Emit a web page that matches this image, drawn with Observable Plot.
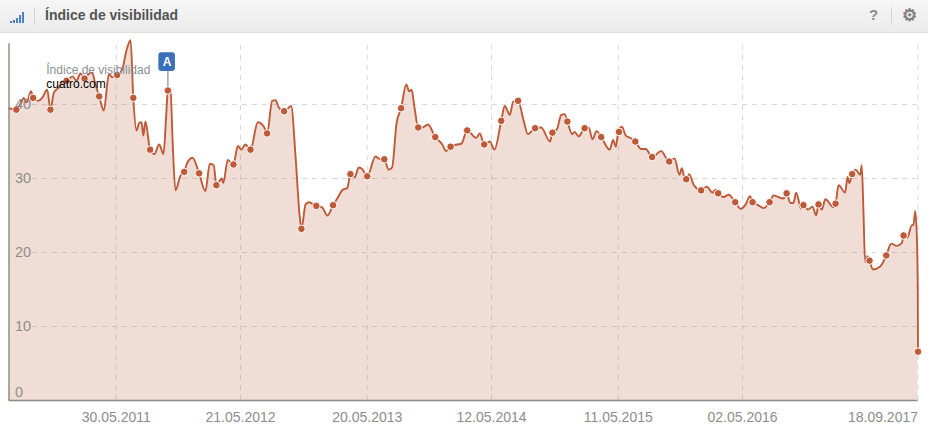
<!DOCTYPE html>
<html lang="es">
<head>
<meta charset="utf-8">
<script src="https://cdn.jsdelivr.net/npm/d3@7"></script>
<script src="https://cdn.jsdelivr.net/npm/@observablehq/plot@0.6"></script>
<style>
html,body{margin:0;padding:0;background:#fff;width:928px;height:430px;overflow:hidden;font-family:"Liberation Sans",Arial,sans-serif}
#head{position:relative;height:32px;box-sizing:content-box;background:linear-gradient(#f6f6f6,#ebebeb);border-bottom:1px solid #dcdcdc;color:#555}
#bars{position:absolute;left:10px;top:12px;height:11px;display:flex;align-items:flex-end;gap:1px}
#bars i{display:block;width:2px;background:#4a7fc9}
.sep{position:absolute;top:7px;height:18px;width:1px;background:#d5d5d5}
#title{position:absolute;left:45px;top:7px;font:bold 14px/17px "Liberation Sans",Arial,sans-serif;color:#555}
#help{position:absolute;left:869px;top:6px;font:bold 15px/18px "Liberation Sans",Arial,sans-serif;color:#8b8b8b}
#gear{position:absolute;left:902px;top:4px;font:17px/22px "DejaVu Sans",sans-serif;color:#808080;-webkit-text-stroke:.6px #808080}
#chart svg{display:block}
</style>
</head>
<body>
<div id="head">
  <div id="bars"><i style="height:2px"></i><i style="height:3px"></i><i style="height:5px"></i><i style="height:8px"></i><i style="height:11px"></i></div>
  <div class="sep" style="left:34px"></div>
  <div id="title">Índice de visibilidad</div>
  <div id="help">?</div>
  <div class="sep" style="left:891px"></div>
  <div id="gear">⚙</div>
</div>
<div id="chart"></div>
<script>
const startDate = "2010-07-26";
const endDate = "2017-09-18";
const tickDates = ["2011-05-30","2012-05-21","2013-05-20","2014-05-12","2015-05-11","2016-05-02"];
const lastTick = "2017-09-18";
const yTicks = [0,10,20,30,40];
const seriesName = "Índice de visibilidad";
const domainName = "cuatro.com";

// weeks since startDate
const lineWeeks = [0,3,4.7,6.1,7.2,9.1,9.9,12,13.6,15.7,17,18.4,20.4,22.2,23.6,26.1,27.7,29.3,31,32.6,34.1,35.5,37,38.9,41,42.3,44.4,46.5,48.2,49.9,51,52.3,53.4,54.4,55.1,56,57.9,59.7,61.6,63.4,64.5,65.2,66.3,67.2,68.3,70.4,71.9,73.1,75.3,78,80.6,82.4,84,85.1,87.3,87.9,89.8,92.1,93.9,95.3,97,99.1,102.1,104.6,105.9,108,109.4,110.7,112.9,115.8,117.6,119.2,120,121.7,123,126.1,128.5,130.6,133,134.7,137,138.8,140.1,141.9,143.5,144.9,147,150.4,151.7,154,155.8,157.2,159,160.9,163,164.2,165.2,166.4,167.9,169.6,171.9,174.9,177.8,179.4,181.2,183.9,185.6,188,191.7,193.2,195,197.3,199.2,202,203.4,205.5,206.9,208.9,211.2,212.9,215.9,218.4,222,223,224.9,226.6,228,229.1,231.1,232.1,233.8,236.2,237.9,239.4,241.1,243,246.5,247.9,249,250,251.5,253.1,254.9,257,259.4,261.3,263.9,267.6,270.9,273.1,275.1,276.1,276.9,277.9,279.1,280.9,284,286.3,288.7,290,291,293.2,295.3,298,300.3,302.1,304.1,305.1,307.3,309.7,312.1,313.7,317.8,319.1,320.6,321.9,323,325.1,326,327.8,329.7,331.2,332.2,333.5,335,338.3,339.2,340.4,343.1,344.1,344.8,346,347.4,349.3,349.9,350.6,351.3,352.2,353.1,354.5,357.5,360,362,364.3,366.4,367.1,368.6,370.5,371.1,371.9,372.6,372.9,373];
const lineValues = [39.5,39.3,40.1,40.9,40.3,41.8,40.9,40.5,40.9,42,39.3,41.6,42.3,43.2,43.2,43.8,43.2,44.2,43.5,44.1,44.3,42.7,41.1,39.2,44.1,43.7,44,44.8,47.3,48.7,40.9,36.5,37.5,37.6,35.8,37.7,33.9,33.3,34.6,33.3,38.5,41.9,41.7,34.5,28.4,30.4,30.9,32.1,32.8,30.7,28.3,32,31.8,29.1,30,29.4,32.5,31.9,34.4,33.9,34.6,33.9,37.6,37,36.1,40.5,40.6,39.6,39.1,39.8,32.9,25.2,23.2,26.5,26.8,26.3,26.1,25,26.4,27.3,28.5,28.7,30.6,30.2,31.5,31.3,30.3,33,32.7,32.6,31.2,31.5,37.4,39.5,42.7,41.8,42,39.6,36.9,36.9,37.3,35.6,34.6,33.7,34.3,34.6,34.7,36.5,35.5,36.1,34.6,35,33.9,37.8,39.8,38.6,40.4,40.5,37.8,36,36.8,36.9,35,36.2,36.7,38.6,38.7,37.7,36,36.3,35.7,36.8,36.9,35.3,36.4,35.6,33.9,35.2,34.3,36.3,37,35.8,35.5,35,34,34,32.9,33.7,32.3,32.7,30.5,31.4,30.4,29.9,30.6,29.2,28.4,28.9,28.1,28.5,28,27.5,27.8,26.8,25.9,26.4,27.6,26.8,26.4,26,26.8,27.7,27.3,28,26.7,26.7,28.1,25.9,26.4,25.8,26.2,25,26.5,25.8,27.2,26.1,26.6,29.1,28.1,30.2,29.4,30.6,31.2,30.5,31.8,25.7,18.7,19.5,18.9,17.7,18.1,19.6,21.2,20.9,21.3,22.3,22,23.7,23.7,25.6,21.2,14.9,6.6];

const markerWeeks = [3,9.9,17,23.6,31,37,44.4,51,57.9,65.2,71.9,78,85.1,92.1,99.1,105.9,112.9,120,126.1,133,140.1,147,154,160.9,167.9,174.9,181.2,188,195,202,208.9,215.9,223,229.1,236.2,243,250.3,257,263.9,270.9,277.9,284,291,298,305.1,312.1,319.1,326,332.2,339.2,346,353.1,360,367.1,373];
const markerValues = [39.3,40.9,39.3,43.2,43.5,41.1,44,40.9,33.9,41.9,30.9,30.7,29.1,31.9,33.9,36.1,39.1,23.2,26.3,26.4,30.6,30.3,32.6,39.5,36.9,35.6,34.3,36.5,34.6,37.8,40.5,36.8,36.2,37.7,36.8,35.6,36.3,35,32.9,32.3,29.9,28.4,28,26.8,26.8,26.8,28,26.4,26.5,26.6,30.6,18.9,19.6,22.3,6.6];

const toDate = w => new Date(Date.parse(startDate + "T00:00:00Z") + w * 7 * 864e5);
const parse = s => new Date(s + "T00:00:00Z");
const fmt = d3.utcFormat("%d.%m.%Y");
const line = lineWeeks.map((w, i) => ({date: toDate(w), value: lineValues[i]}));
const markers = markerWeeks.map((w, i) => ({date: toDate(w), value: markerValues[i]}));

const col = "#bf5a38", areaCol = "#b45a32", grid = "#d9d9d9", axisCol = "#8f8884", labelCol = "#8d8d8d";
const axisTop = 48.2;
const flag = {x1: toDate(61.5), x2: toDate(68.3), y1: 44.46, y2: 46.99, mid: toDate(64.9), midY: 45.73, pin: toDate(65.2), pinY: 41.9};
const gridStart = toDate(9.6);

const chart = Plot.plot({
  width: 928, height: 397,
  marginTop: 0, marginBottom: 30, marginLeft: 8.5, marginRight: 10.5,
  x: {type: "utc", domain: [parse(startDate), parse(endDate)]},
  y: {domain: [0, 49.6], axis: null},
  style: {background: "transparent", fontFamily: '"Liberation Sans",Arial,sans-serif', overflow: "visible"},
  marks: [
    Plot.ruleY(yTicks.filter(d => d > 0), {x1: gridStart, x2: parse(endDate), stroke: grid, strokeDasharray: "5,5", strokeWidth: 1}),
    Plot.ruleX([...tickDates, lastTick].map(parse), {y1: 0, y2: axisTop, stroke: grid, strokeDasharray: "5,5", strokeWidth: 1}),
    Plot.areaY(line, {x: "date", y: "value", fill: areaCol, fillOpacity: 0.2, curve: "monotone-x"}),
    Plot.lineY(line, {x: "date", y: "value", stroke: col, strokeWidth: 1.9, curve: "monotone-x"}),
    Plot.ruleY([0], {stroke: axisCol, strokeWidth: 1.4}),
    Plot.ruleX([parse(startDate)], {y1: 0, y2: axisTop, stroke: axisCol, strokeWidth: 1.4}),
    Plot.ruleX([flag.pin], {y1: flag.pinY, y2: flag.y1, stroke: "#8f8f8f", strokeWidth: 1.2}),
    Plot.dot(markers, {x: "date", y: "value", r: 3.8, fill: col, stroke: "#fff", strokeWidth: 1}),
    Plot.rect([flag], {x1: "x1", x2: "x2", y1: "y1", y2: "y2", rx: 3, fill: "#3a70ba"}),
    Plot.text(["A"], {x: flag.mid, y: flag.midY, fill: "#fff", fontWeight: "bold", fontSize: 12}),
    Plot.text(yTicks.filter(d => d > 0), {x: parse(startDate), y: d => d, dx: 6, text: d => String(d), textAnchor: "start", fill: labelCol, fontSize: 14.5}),
    Plot.text([0], {x: parse(startDate), y: 0, dx: 6, dy: -8, text: d => String(d), textAnchor: "start", fill: labelCol, fontSize: 14.5}),
    Plot.text([seriesName], {x: toDate(15.3), y: 44.7, textAnchor: "start", fill: "#8a8f96", fontSize: 12}),
    Plot.text([domainName], {x: toDate(15.3), y: 42.7, textAnchor: "start", fill: "#000", fontSize: 12}),
    Plot.axisX(tickDates.map(parse), {tickSize: 0, tickPadding: 12, tickFormat: fmt, fontSize: 14, fill: labelCol, label: null}),
    Plot.axisX([parse(lastTick)], {tickSize: 0, tickPadding: 12, tickFormat: fmt, fontSize: 14, fill: labelCol, textAnchor: "end", label: null})
  ]
});
document.getElementById("chart").append(chart);
</script>
</body>
</html>
